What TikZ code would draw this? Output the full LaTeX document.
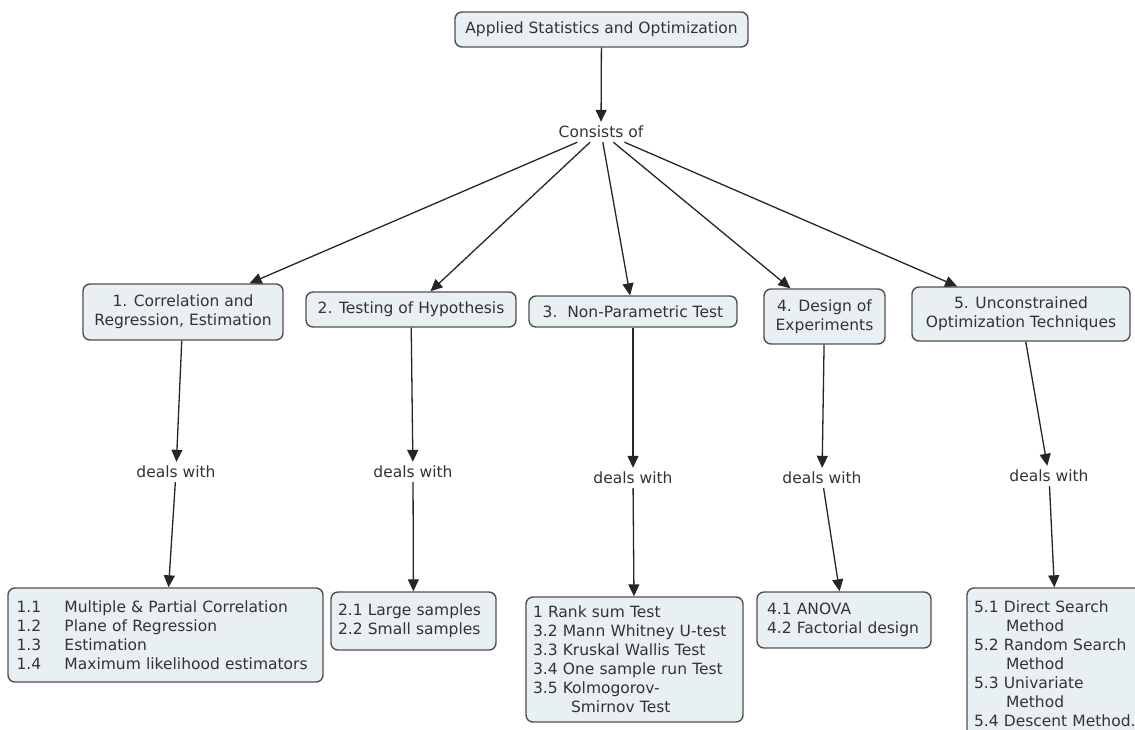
\documentclass[tikz,border=0pt]{standalone}
\usepackage{fontspec}
\setmainfont{DejaVu Sans}
\usepackage{tikz}
\usetikzlibrary{arrows.meta}
\definecolor{boxfill}{HTML}{E9F0F3}
\definecolor{boxline}{HTML}{505050}
\definecolor{ink}{HTML}{333333}
\tikzset{>={Triangle[length=12pt,width=11pt]}}

\begin{document}
\begin{tikzpicture}[x=1pt,y=-1pt,
    box/.style={draw=boxline,fill=boxfill,line width=1.4pt,rounded corners=7pt,text=ink,
      font=\fontsize{15.5}{19}\selectfont,inner sep=0pt,align=center},
    list/.style={box,align=left,inner xsep=7pt},
    rel/.style={text=ink,font=\fontsize{15.5}{19}\selectfont,inner sep=4pt},
    link/.style={->,line width=1.3pt,draw=black!85}]
  \path[use as bounding box,fill=white] (0,0) rectangle (1135,729);
  \node[box,minimum width=293,minimum height=35] (top) at (601.5,29.5) {Applied Statistics and Optimization};
  \node[rel] (cons) at (601,132) {Consists of};
  \node[box,minimum width=200,minimum height=56] (b1) at (183,312) {1. Correlation and\\Regression, Estimation};
  \node[box,minimum width=210,minimum height=35] (b2) at (411,309.5) {2. Testing of Hypothesis};
  \node[box,minimum width=208,minimum height=31] (b3) at (633,311.5) {3.\ \ Non-Parametric Test};
  \node[box,minimum width=121,minimum height=55] (b4) at (824.5,316.5) {4. Design of\\Experiments};
  \node[box,minimum width=218,minimum height=54] (b5) at (1021,314) {5. Unconstrained\\Optimization Techniques};
  \node[rel] (dw1) at (176,472) {deals with};
  \node[rel] (dw2) at (413,472) {deals with};
  \node[rel] (dw3) at (633,478) {deals with};
  \node[rel] (dw4) at (822,478) {deals with};
  \node[rel] (dw5) at (1049,476) {deals with};
  \node[list,inner xsep=8.5pt,text width=298pt,minimum height=94] (c1) at (165.5,635)
    {\makebox[48pt][l]{1.1}Multiple \& Partial Correlation\\
     \makebox[48pt][l]{1.2}Plane of Regression\\
     \makebox[48pt][l]{1.3}Estimation\\
     \makebox[48pt][l]{1.4}\mbox{Maximum likelihood estimators}};
  \node[list,text width=151pt,minimum height=58] (c2) at (413.5,621)
    {2.1 Large samples\\2.2 Small samples};
  \node[list,text width=203pt,minimum height=125] (c3) at (634.5,659.5)
    {1 Rank sum Test\\3.2 Mann Whitney U-test\\3.3 Kruskal Wallis Test\\3.4 One sample run Test\\
     3.5 Kolmogorov-\\\hspace*{38pt}Smirnov Test};
  \node[list,inner xsep=10pt,text width=154pt,minimum height=56] (c4) at (844,620)
    {4.1 ANOVA\\4.2 Factorial design};
  \node[list,text width=168pt,minimum height=152] (c5) at (1058,664)
    {5.1 Direct Search\\\hspace*{32pt}Method\\5.2 Random Search\\\hspace*{32pt}Method\\
     5.3 Univariate\\\hspace*{32pt}Method\\5.4 Descent Method.};
  \draw[link] (top) -- (cons);
  \foreach \n in {1,...,5} {
    \draw[link] (cons) -- (b\n);
    \draw[link] (b\n) -- (dw\n);
    \draw[link] (dw\n) -- (c\n);
  }
\end{tikzpicture}
\end{document}
